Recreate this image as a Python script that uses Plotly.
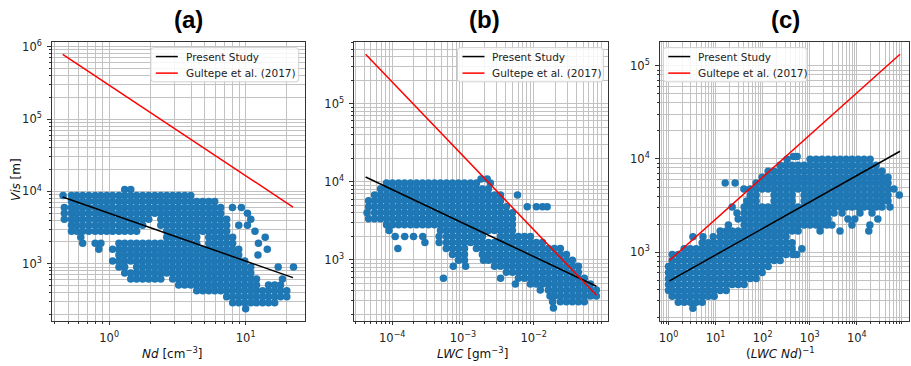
import math
import plotly.graph_objects as go

# ---------------- data ----------------
# Panel (a): Vis [m] vs Nd [cm^-3]; each row = (Vis, [Nd values])
rows_a = [
    (10600, [1.3, 1.44]),
    (8800, [0.46, 0.53, 0.58, 0.64, 0.71, 0.79, 0.87, 0.96, 1.06, 1.18, 1.3, 1.44, 1.59, 1.76, 1.95, 2.16, 2.39, 2.64, 2.92, 3.23, 3.58, 3.96]),
    (7270, [0.53, 0.58, 0.64, 0.71, 0.79, 0.87, 0.96, 1.06, 1.18, 1.3, 1.44, 1.59, 1.76, 1.95, 2.16, 2.39, 2.64, 2.92, 3.23, 3.58, 3.96, 4.38, 4.85, 5.37, 5.93]),
    (6010, [0.47, 0.53, 0.58, 0.64, 0.71, 0.79, 0.87, 0.96, 1.06, 1.18, 1.3, 1.44, 1.59, 1.76, 1.95, 2.16, 2.39, 2.64, 2.92, 3.23, 3.58, 3.96, 4.38, 4.85, 5.37, 5.93, 6.56, 8.0, 9.3]),
    (4970, [0.47, 0.53, 0.58, 0.64, 0.71, 0.79, 0.87, 0.96, 1.06, 1.18, 1.3, 1.44, 1.59, 1.76, 1.95, 2.16, 2.39, 2.64, 2.92, 3.23, 3.58, 3.96, 4.38, 4.85, 5.37, 5.93, 6.56, 10.3]),
    (4110, [0.47, 0.53, 0.58, 0.64, 0.71, 0.79, 0.87, 0.96, 1.06, 1.18, 1.3, 1.44, 1.59, 1.76, 1.95, 2.39, 2.64, 2.92, 3.23, 3.58, 3.96, 4.38, 4.85, 5.37, 5.93, 6.56, 7.26, 10.9]),
    (3400, [0.53, 0.58, 0.64, 0.71, 0.79, 0.87, 0.96, 1.06, 1.18, 1.3, 1.44, 1.59, 1.76, 2.39, 2.64, 2.92, 3.23, 3.58, 3.96, 4.38, 4.85, 5.37, 5.93, 6.56, 7.26, 8.9, 10.3]),
    (2810, [0.53, 0.58, 0.64, 0.71, 0.79, 0.87, 0.96, 1.06, 1.18, 1.3, 1.44, 1.59, 2.64, 2.92, 3.23, 3.58, 3.96, 4.38, 4.85, 5.37, 5.93, 6.56, 7.26, 11.7]),
    (2330, [0.62, 2.64, 2.92, 3.23, 3.58, 3.96, 4.38, 5.37, 5.93, 6.56, 7.26, 8.03, 13.9]),
    (1920, [0.64, 0.79, 0.87, 1.18, 1.3, 1.44, 1.59, 1.76, 1.95, 2.16, 2.39, 2.64, 2.92, 3.23, 3.58, 3.96, 4.38, 5.37, 5.93, 6.56, 7.26, 8.03, 12.4]),
    (1590, [0.84, 1.06, 1.18, 1.3, 1.44, 1.59, 1.76, 1.95, 2.16, 2.39, 2.64, 2.92, 3.23, 3.58, 3.96, 4.38, 4.85, 5.37, 5.93, 6.56, 7.26, 8.03, 8.89, 14.4]),
    (1320, [1.18, 1.3, 1.44, 1.59, 1.76, 1.95, 2.16, 2.39, 2.64, 2.92, 3.23, 3.58, 3.96, 4.38, 4.85, 5.37, 5.93, 6.56, 7.26, 8.03, 8.89, 12.3]),
    (1090, [1.06, 1.18, 1.3, 1.44, 1.59, 1.76, 1.95, 2.16, 2.39, 2.64, 2.92, 3.23, 3.58, 3.96, 4.38, 4.85, 5.37, 5.93, 6.56, 7.26, 8.03, 8.89, 9.84]),
    (901, [1.18, 1.3, 1.59, 1.76, 1.95, 2.16, 2.39, 2.64, 2.92, 3.23, 3.58, 3.96, 4.38, 4.85, 5.37, 5.93, 6.56, 7.26, 8.03, 8.89, 9.84, 10.9, 17.3, 22.4]),
    (745, [1.3, 1.44, 1.59, 1.76, 1.95, 2.16, 2.39, 2.64, 2.92, 3.23, 3.58, 3.96, 4.38, 4.85, 5.37, 5.93, 6.56, 7.26, 8.03, 8.89, 9.84, 10.9]),
    (617, [1.44, 1.59, 1.76, 1.95, 2.16, 2.39, 2.92, 3.23, 3.58, 3.96, 4.38, 4.85, 5.37, 5.93, 6.56, 7.26, 8.03, 8.89, 9.84, 10.9, 12.0, 18.6]),
    (510, [3.23, 3.58, 3.96, 4.38, 4.85, 5.37, 5.93, 6.56, 7.26, 8.03, 8.89, 9.84, 10.9, 12.0, 14.7, 16.3, 18.0]),
    (422, [4.38, 4.85, 5.37, 5.93, 6.56, 7.26, 8.03, 8.89, 9.84, 10.9, 12.0, 13.3, 14.7, 16.3, 18.0, 20.0]),
    (349, [7.26, 8.03, 8.89, 9.84, 10.9, 12.0, 13.3, 14.7, 16.3, 18.0, 20.0]),
    (289, [8.03, 8.89, 9.84, 10.9, 12.0, 13.3, 14.7, 16.3]),
    (239, [10.0]),
]

# Panel (b): Vis [m] vs LWC [g m^-3]; each row = (Vis, [LWC values])
rows_b = [
    (10800, [1.8e-3, 2.2e-3]),
    (9630, [8.3e-5, 1.01e-4, 1.23e-4, 1.49e-4, 1.81e-4, 2.2e-4, 2.68e-4, 3.26e-4, 3.95e-4, 4.81e-4, 5.84e-4, 7.1e-4, 8.63e-4, 1.05e-3, 1.28e-3, 1.55e-3, 2.44e-3]),
    (8080, [6.84e-5, 8.3e-5, 1.01e-4, 1.23e-4, 1.49e-4, 1.81e-4, 2.2e-4, 2.68e-4, 3.26e-4, 3.95e-4, 4.81e-4, 5.84e-4, 7.1e-4, 8.63e-4, 1.05e-3, 1.28e-3, 1.55e-3, 1.88e-3, 2.29e-3]),
    (6780, [5.62e-5, 6.84e-5, 8.3e-5, 1.01e-4, 1.23e-4, 1.49e-4, 1.81e-4, 2.2e-4, 2.68e-4, 3.26e-4, 3.95e-4, 4.81e-4, 5.84e-4, 7.1e-4, 8.63e-4, 1.05e-3, 1.28e-3, 1.55e-3, 1.88e-3, 2.29e-3, 2.79e-3, 3.39e-3, 5.9e-3]),
    (5690, [4.63e-5, 5.62e-5, 6.84e-5, 8.3e-5, 1.01e-4, 1.23e-4, 1.49e-4, 1.81e-4, 2.2e-4, 2.68e-4, 3.26e-4, 3.95e-4, 4.81e-4, 5.84e-4, 7.1e-4, 8.63e-4, 1.05e-3, 1.28e-3, 1.55e-3, 1.88e-3, 2.29e-3, 2.79e-3, 3.39e-3]),
    (4770, [4.63e-5, 5.62e-5, 6.84e-5, 8.3e-5, 1.01e-4, 1.23e-4, 1.49e-4, 1.81e-4, 2.2e-4, 2.68e-4, 3.26e-4, 3.95e-4, 4.81e-4, 5.84e-4, 7.1e-4, 8.63e-4, 1.05e-3, 1.28e-3, 1.55e-3, 1.88e-3, 2.29e-3, 2.79e-3, 3.39e-3, 4.11e-3, 8.1e-3, 1.09e-2, 1.33e-2, 1.55e-2]),
    (4010, [4.4e-5, 5.62e-5, 6.84e-5, 8.3e-5, 1.01e-4, 1.23e-4, 1.49e-4, 1.81e-4, 2.2e-4, 2.68e-4, 3.26e-4, 3.95e-4, 4.81e-4, 5.84e-4, 7.1e-4, 8.63e-4, 1.05e-3, 1.28e-3, 1.55e-3, 1.88e-3, 2.29e-3, 2.79e-3, 3.39e-3, 4.11e-3, 5.0e-3]),
    (3360, [4.63e-5, 5.62e-5, 6.84e-5, 8.3e-5, 1.01e-4, 1.23e-4, 1.49e-4, 1.81e-4, 2.2e-4, 2.68e-4, 3.26e-4, 3.95e-4, 4.81e-4, 5.84e-4, 7.1e-4, 8.63e-4, 1.05e-3, 1.28e-3, 1.55e-3, 1.88e-3, 2.29e-3, 2.79e-3, 3.39e-3, 4.11e-3, 5.0e-3]),
    (2820, [8.3e-5, 1.01e-4, 1.23e-4, 1.49e-4, 1.81e-4, 2.2e-4, 2.68e-4, 3.26e-4, 3.95e-4, 4.81e-4, 5.84e-4, 7.1e-4, 8.63e-4, 1.05e-3, 1.28e-3, 1.55e-3, 1.88e-3, 2.29e-3, 2.79e-3, 3.39e-3, 4.11e-3, 5.0e-3]),
    (2370, [9.0e-5, 4.81e-4, 5.84e-4, 7.1e-4, 8.63e-4, 1.05e-3, 1.28e-3, 1.55e-3, 1.88e-3, 2.29e-3, 2.79e-3, 3.39e-3, 4.11e-3, 5.0e-3]),
    (1990, [1.1e-4, 1.5e-4, 2.0e-4, 2.7e-4, 4.6e-4, 5.84e-4, 7.1e-4, 8.63e-4, 1.05e-3, 1.28e-3, 1.55e-3, 1.88e-3, 3.39e-3, 4.11e-3, 5.0e-3, 6.08e-3, 7.39e-3, 8.98e-3]),
    (1670, [2.9e-4, 4.6e-4, 5.84e-4, 7.1e-4, 8.63e-4, 1.05e-3, 1.28e-3, 1.55e-3, 1.88e-3, 2.29e-3, 2.79e-3, 3.39e-3, 4.11e-3, 5.0e-3, 6.08e-3, 7.39e-3, 8.98e-3, 1.09e-2, 1.33e-2]),
    (1400, [1.2e-4, 5.8e-4, 7.1e-4, 8.63e-4, 1.05e-3, 1.55e-3, 1.88e-3, 2.29e-3, 2.79e-3, 3.39e-3, 4.11e-3, 5.0e-3, 6.08e-3, 7.39e-3, 8.98e-3, 1.09e-2, 1.33e-2, 1.61e-2, 1.96e-2, 2.38e-2]),
    (1170, [7.1e-4, 8.63e-4, 1.05e-3, 1.88e-3, 2.29e-3, 2.79e-3, 3.39e-3, 4.11e-3, 5.0e-3, 6.08e-3, 7.39e-3, 8.98e-3, 1.09e-2, 1.33e-2, 1.61e-2, 1.96e-2, 2.38e-2, 2.9e-2]),
    (984, [8.63e-4, 1.05e-3, 1.95e-3, 2.29e-3, 2.79e-3, 3.39e-3, 4.11e-3, 5.0e-3, 6.08e-3, 7.39e-3, 8.98e-3, 1.09e-2, 1.33e-2, 1.61e-2, 1.96e-2, 2.38e-2, 2.9e-2, 3.52e-2]),
    (826, [7.3e-4, 1.09e-3, 2.79e-3, 3.39e-3, 4.11e-3, 5.0e-3, 6.08e-3, 7.39e-3, 8.98e-3, 1.09e-2, 1.33e-2, 1.61e-2, 1.96e-2, 2.38e-2, 2.9e-2, 3.52e-2, 4.28e-2]),
    (693, [4.11e-3, 5.0e-3, 6.08e-3, 7.39e-3, 8.98e-3, 1.09e-2, 1.33e-2, 1.61e-2, 1.96e-2, 2.38e-2, 2.9e-2, 3.52e-2, 4.28e-2]),
    (582, [5.3e-4, 3.4e-3, 6.08e-3, 7.39e-3, 8.98e-3, 1.09e-2, 1.33e-2, 1.61e-2, 1.96e-2, 2.38e-2, 2.9e-2, 3.52e-2, 4.28e-2, 5.2e-2]),
    (488, [5.5e-3, 8.98e-3, 1.09e-2, 1.33e-2, 1.61e-2, 1.96e-2, 2.38e-2, 2.9e-2, 3.52e-2, 4.28e-2, 5.2e-2, 6.32e-2]),
    (410, [1.24e-2, 1.61e-2, 1.96e-2, 2.38e-2, 2.9e-2, 3.52e-2, 4.28e-2, 5.2e-2, 6.32e-2, 7.69e-2]),
    (344, [1.7e-2, 1.96e-2, 2.38e-2, 2.9e-2, 3.52e-2, 4.28e-2, 5.2e-2, 6.32e-2, 7.69e-2]),
    (289, [1.85e-2, 2.38e-2, 2.9e-2, 3.52e-2, 4.28e-2, 5.2e-2]),
    (242, [1.9e-2]),
]

# Panel (c): Vis [m] vs (LWC Nd)^-1; each row = (Vis, [(LWC Nd)^-1 values])
rows_c = [
    (10600, [450, 540]),
    (9930, [330, 1020, 1370, 1830, 2460, 3300, 4420, 5930, 7950, 10700, 14300, 19200]),
    (8570, [235, 315, 423, 567, 760, 1020, 1370, 1830, 2460, 3300, 4420, 5930, 7950, 10700, 14300, 19200, 25700]),
    (7390, [131, 175, 235, 315, 423, 567, 760, 1020, 1370, 1830, 2460, 3300, 4420, 5930, 7950, 10700, 14300, 19200, 25700, 34400]),
    (6380, [97.6, 131, 175, 235, 315, 423, 567, 760, 1020, 1370, 1830, 2460, 3300, 4420, 5930, 7950, 10700, 14300, 19200, 25700, 34400, 46100]),
    (5510, [16, 26, 72.8, 97.6, 131, 175, 235, 315, 423, 567, 760, 1020, 1370, 1830, 2460, 3300, 4420, 5930, 7950, 10700, 14300, 19200, 25700, 34400, 46100]),
    (4750, [40, 54.3, 72.8, 97.6, 131, 175, 235, 315, 423, 567, 760, 1020, 1370, 1830, 2460, 3300, 4420, 5930, 7950, 10700, 14300, 19200, 25700, 34400, 46100, 61800]),
    (4100, [54.3, 72.8, 175, 235, 315, 423, 760, 1020, 1370, 1830, 2460, 3300, 4420, 5930, 7950, 10700, 14300, 19200, 25700, 34400, 46100, 80000]),
    (3540, [46, 54.3, 72.8, 175, 235, 315, 423, 760, 1020, 1370, 1830, 2460, 3300, 4420, 5930, 7950, 10700, 14300, 19200, 25700, 34400, 46100]),
    (3050, [22.5, 40.5, 54.3, 72.8, 97.6, 131, 175, 235, 315, 423, 567, 760, 1020, 1370, 1830, 2460, 3300, 4420, 5930, 7950, 10700, 14300, 19200, 25700, 34400, 50700]),
    (2630, [28.5, 40.5, 54.3, 72.8, 97.6, 131, 175, 235, 315, 423, 567, 760, 1020, 1370, 1830, 2460, 3300, 4880, 11700, 21100]),
    (2270, [30.2, 40.5, 54.3, 72.8, 97.6, 131, 175, 235, 315, 423, 567, 760, 1020, 1370, 1830, 2460, 6500, 9100, 28000]),
    (1960, [18.7, 40.5, 54.3, 72.8, 97.6, 131, 175, 235, 315, 423, 567, 760, 1020, 1370, 1830, 2340, 2970, 7900, 19000]),
    (1690, [12.5, 16.8, 22.5, 30.2, 40.5, 54.3, 72.8, 97.6, 131, 175, 235, 315, 423, 567, 1660, 4400, 18000]),
    (1460, [3.3, 5.4, 8.9, 12.5, 16.8, 22.5, 30.2, 40.5, 54.3, 72.8, 97.6, 131, 175, 235, 315]),
    (1260, [5.19, 6.96, 9.33, 12.5, 16.8, 22.5, 30.2, 40.5, 54.3, 72.8, 97.6, 131, 175, 235, 315, 423]),
    (1090, [2.15, 2.89, 3.87, 5.19, 6.96, 9.33, 12.5, 16.8, 22.5, 30.2, 40.5, 54.3, 72.8, 97.6, 131, 175, 235, 315, 423, 680]),
    (940, [1.2, 1.61, 2.15, 2.89, 3.87, 5.19, 6.96, 9.33, 12.5, 16.8, 22.5, 30.2, 40.5, 54.3, 72.8, 97.6, 131, 175, 235, 315, 440, 530]),
    (811, [1.2, 1.61, 2.15, 2.89, 3.87, 5.19, 6.96, 9.33, 12.5, 16.8, 22.5, 30.2, 40.5, 54.3, 72.8, 97.6, 131, 175, 235]),
    (700, [1.0, 1.2, 1.61, 2.15, 2.89, 3.87, 5.19, 6.96, 9.33, 12.5, 16.8, 22.5, 30.2, 40.5, 54.3, 72.8, 97.6, 131]),
    (604, [1.0, 1.2, 1.61, 2.15, 2.89, 3.87, 5.19, 6.96, 9.33, 12.5, 16.8, 22.5, 30.2, 40.5, 54.3, 72.8, 97.6]),
    (521, [1.0, 1.2, 1.61, 2.15, 2.89, 3.87, 5.19, 6.96, 9.33, 12.5, 16.8, 22.5, 30.2, 40.5, 54.3, 72.8]),
    (450, [1.0, 1.2, 1.61, 2.15, 2.89, 3.87, 5.19, 6.96, 9.33, 12.5, 16.8, 22.5, 30.2, 40.5]),
    (388, [1.0, 1.2, 1.61, 2.15, 2.89, 3.87, 5.19, 6.96, 9.33, 12.5, 16.8]),
    (335, [1.2, 1.61, 2.15, 2.89, 3.87, 5.19, 6.96, 9.33]),
    (289, [1.61, 2.15, 2.89, 3.87, 5.19]),
    (250, [3.3]),
]

# Fitted lines (end points)
nd_line = [0.457, 22.2]
present_a = [8350, 643]
gultepe_a = [7.8e5, 6080]

lwc_line = [4.2e-5, 0.077]
present_b = [11500, 458]
gultepe_b = [4.3e5, 352]

inv_line = [1.05, 8.3e4]
present_c = [491, 12100]
gultepe_c = [815, 1.33e5]

# tick exponents
xt_a, yt_a = [0, 1], [3, 4, 5, 6]
xt_b, yt_b = [-4, -3, -2], [3, 4, 5]
xt_c, yt_c = [0, 1, 2, 3, 4], [3, 4, 5]

series_names = ["Present Study", "Gultepe et al. (2017)"]
titles = ["(a)", "(b)", "(c)"]


def expand(rows):
    xs = [x for y, vals in rows for x in vals]
    ys = [y for y, vals in rows for _ in vals]
    return xs, ys


nd_a, vis_a = expand(rows_a)
lwc_b, vis_b = expand(rows_b)
inv_c, vis_c = expand(rows_c)

# ---------------- layout geometry ----------------
W, H = 911, 366
GRID = "#c2c2c2"
AX = "#333333"
BLUE = "#1f77b4"


def fx(px):
    return px / W


def fy(py):
    return 1 - py / H


dom_x = [(50.7, 304.0), (353.3, 607.3), (659.3, 909.0)]
dom_y = (fy(320.3), fy(39.3))
ranges = [
    ([-0.421, 1.432], [2.213, 6.065]),
    ([-4.542, -0.955], [2.22, 5.79]),
    ([-0.19, 5.11], [2.264, 5.256]),
]
ticks = [(xt_a, yt_a), (xt_b, yt_b), (xt_c, yt_c)]


def minor_vals(lo, hi):
    out = []
    for e in range(math.floor(lo) - 1, math.ceil(hi) + 1):
        for m in range(2, 10):
            v = m * 10.0 ** e
            if lo <= math.log10(v) <= hi:
                out.append(v)
    return out


def label(e):
    return "10<sup>%s%d</sup>" % ("\u2212" if e < 0 else "", abs(e))


def make_axis(rng, exps, dom, anchor):
    return dict(
        type="log", range=rng, domain=dom, anchor=anchor,
        tickmode="array", tickvals=[10.0 ** e for e in exps],
        ticktext=[label(e) for e in exps],
        showline=True, mirror=True, linecolor=AX, linewidth=1,
        ticks="outside", ticklen=3.5, tickwidth=1, tickcolor=AX,
        showgrid=True, gridcolor=GRID, gridwidth=0.8,
        minor=dict(tickmode="array", tickvals=minor_vals(*rng), ticks="outside",
                   ticklen=2, tickwidth=0.8, tickcolor=AX,
                   showgrid=True, gridcolor=GRID, gridwidth=0.8),
        zeroline=False, ticklabelstandoff=3,
        tickfont=dict(family="DejaVu Sans", size=11.5, color="#222"),
    )


fig = go.Figure()
data = [
    (nd_a, vis_a, nd_line, present_a, gultepe_a),
    (lwc_b, vis_b, lwc_line, present_b, gultepe_b),
    (inv_c, vis_c, inv_line, present_c, gultepe_c),
]
for i, (xs, ys, lx, lp, lg) in enumerate(data):
    xa = "x" if i == 0 else "x%d" % (i + 1)
    ya = "y" if i == 0 else "y%d" % (i + 1)
    fig.add_trace(go.Scatter(x=xs, y=ys, mode="markers", xaxis=xa, yaxis=ya,
                             marker=dict(size=7.5, color=BLUE, line=dict(width=0)),
                             showlegend=False, name="data"))
    fig.add_trace(go.Scatter(x=lx, y=lp, mode="lines", xaxis=xa, yaxis=ya,
                             line=dict(color="black", width=1.5),
                             showlegend=False, name=series_names[0]))
    fig.add_trace(go.Scatter(x=lx, y=lg, mode="lines", xaxis=xa, yaxis=ya,
                             line=dict(color="red", width=1.5),
                             showlegend=False, name=series_names[1]))

layout = dict(width=W, height=H, margin=dict(l=0, r=0, t=0, b=0),
              paper_bgcolor="white", plot_bgcolor="white", showlegend=False)
for i in range(3):
    sx = "" if i == 0 else str(i + 1)
    layout["xaxis" + sx] = make_axis(ranges[i][0], ticks[i][0],
                                     [fx(dom_x[i][0]), fx(dom_x[i][1])], "y" + sx)
    layout["yaxis" + sx] = make_axis(ranges[i][1], ticks[i][1],
                                     list(dom_y), "x" + sx)
fig.update_layout(**layout)

ann = []
shapes = []
# panel titles
for t, cx in zip(titles, [188, 484, 785]):
    ann.append(dict(text="<b>%s</b>" % t, x=fx(cx), y=fy(16.5), xref="paper", yref="paper",
                    showarrow=False, xanchor="center", yanchor="middle",
                    font=dict(family="Liberation Sans, Arial", size=24, color="black")))
# axis titles
lab_font = dict(family="DejaVu Sans", size=12, color="#111")
ann.append(dict(text="<i>Vis</i> [m]", x=fx(15), y=fy(177.5), xref="paper", yref="paper",
                showarrow=False, textangle=-90, xanchor="center", yanchor="middle", font=lab_font))
for txt, cx in [("<i>Nd</i> [cm<sup>\u22123</sup>]", 171),
                ("<i>LWC</i> [gm<sup>\u22123</sup>]", 472),
                ("(<i>LWC Nd</i>)<sup>\u22121</sup>", 780)]:
    ann.append(dict(text=txt, x=fx(cx), y=fy(353), xref="paper", yref="paper",
                    showarrow=False, xanchor="center", yanchor="middle", font=lab_font))

# legends (one per panel)
leg_font = dict(family="DejaVu Sans", size=10.5, color="#222")
legends = [(150, 298), (457, 603), (663, 807)]
for (x0, x1) in legends:
    y0, y1 = 45.0, 79.5
    r = 3.0
    rx, ry = r / W, r / H
    X0, X1, Y0, Y1 = fx(x0), fx(x1), fy(y1), fy(y0)
    path = ("M %f,%f L %f,%f Q %f,%f %f,%f L %f,%f Q %f,%f %f,%f L %f,%f Q %f,%f %f,%f "
            "L %f,%f Q %f,%f %f,%f Z") % (
        X0 + rx, Y0, X1 - rx, Y0, X1, Y0, X1, Y0 + ry, X1, Y1 - ry, X1, Y1, X1 - rx, Y1,
        X0 + rx, Y1, X0, Y1, X0, Y1 - ry, X0, Y0 + ry, X0, Y0, X0 + rx, Y0)
    shapes.append(dict(type="path", path=path, xref="paper", yref="paper",
                       fillcolor="rgba(255,255,255,0.85)", line=dict(color="#d0d0d0", width=1),
                       layer="above"))
    for k, (col, name) in enumerate(zip(["black", "red"], series_names)):
        yy = 54.0 + k * 16.7
        shapes.append(dict(type="line", xref="paper", yref="paper",
                           x0=fx(x0 + 5), x1=fx(x0 + 27), y0=fy(yy), y1=fy(yy),
                           line=dict(color=col, width=1.5), layer="above"))
        ann.append(dict(text=name, x=fx(x0 + 33), y=fy(yy), xref="paper", yref="paper",
                        showarrow=False, xanchor="left", yanchor="middle", font=leg_font))

fig.update_layout(annotations=ann, shapes=shapes)
fig.write_html("out.html")
